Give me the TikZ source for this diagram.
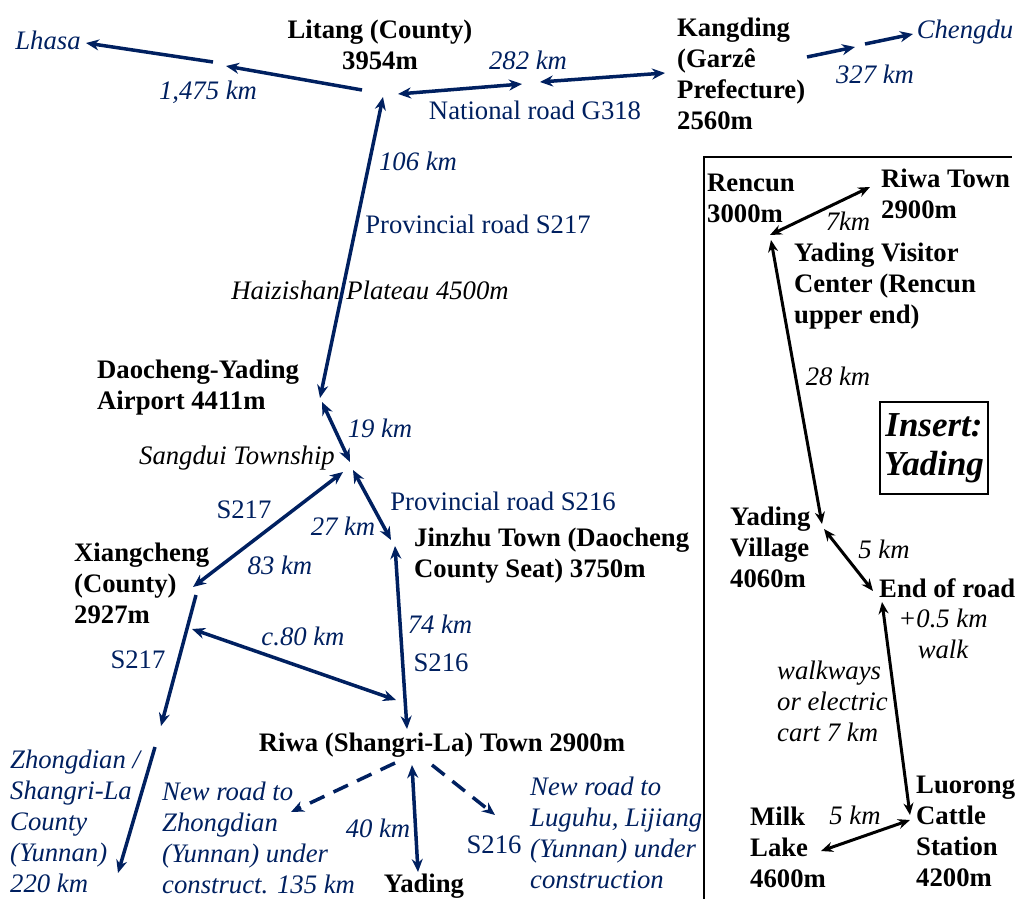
\documentclass[tikz,border=0pt]{standalone}
\usepackage{fontspec}
\setmainfont{Liberation Serif}
\usepackage{tikz}
\usetikzlibrary{arrows.meta}
\usetikzlibrary{positioning}
\definecolor{navy}{RGB}{0,32,96}

\begin{document}
\begin{tikzpicture}[x=1pt,y=-1pt,
  place/.style={font=\fontsize{26.7}{31}\selectfont\bfseries,align=left,inner sep=0pt},
  dist/.style={font=\fontsize{26.7}{31}\selectfont\itshape,text=navy,align=left,inner sep=0pt},
  road/.style={font=\fontsize{26.7}{31}\selectfont,text=navy,inner sep=0pt},
  remark/.style={font=\fontsize{26.7}{31}\selectfont\itshape,align=left,inner sep=0pt},
  route/.style={draw=navy,line width=3.5pt,{Stealth[length=13pt,width=11pt]}-{Stealth[length=13pt,width=11pt]}},
  oneway/.style={draw=navy,line width=3.5pt,-{Stealth[length=13pt,width=11pt]}},
  newroad/.style={oneway,dash pattern=on 16pt off 10pt},
  trail/.style={draw=black,line width=3pt,{Stealth[length=12pt,width=10pt]}-{Stealth[length=12pt,width=10pt]}}]
  \useasboundingbox (0,0) rectangle (1017,899);

  \node[place,align=center] (litang) at (380,45) {Litang (County)\\3954m};
  \node[place,anchor=west] (kangding) at (677,74) {Kangding\\(Garzê\\Prefecture)\\2560m};
  \node[dist] (lhasa) at (48,40) {Lhasa};
  \node[dist] (chengdu) at (965,32) {Chengdu};
  \node[dist] (d1475) at (208,92) {1,475 km};
  \node[dist] (d282) at (528,60) {282 km};
  \node[dist] (d327) at (875,74) {327 km};
  \node[road] (g318) at (535,110) {National road G318};
  \node[dist] (d106) at (418,161) {106 km};
  \node[road] (s217a) at (478,224) {Provincial road S217};
  \node[remark] (haizi) at (370,290) {Haizishan Plateau 4500m};
  \node[place,anchor=west] (airport) at (97,388) {Daocheng-Yading\\Airport 4411m};
  \node[dist] (d19) at (380,428) {19 km};
  \node[remark,anchor=east] (sangdui) at (335,458) {Sangdui Township};
  \node[road] (s216a) at (503,501) {Provincial road S216};
  \node[road] (s217b) at (244,510) {S217};
  \node[dist] (d27) at (343,526) {27 km};
  \node[place,anchor=west] (jinzhu) at (414,556) {Jinzhu Town (Daocheng\\County Seat) 3750m};
  \node[place,anchor=west] (xiang) at (74,583) {Xiangcheng\\(County)\\2927m};
  \node[dist] (d83) at (280,565) {83 km};
  \node[dist] (d80) at (303,636) {c.80 km};
  \node[dist] (d74) at (440,624) {74 km};
  \node[road] (s217c) at (138,660) {S217};
  \node[road] (s216b) at (441,663) {S216};
  \node[place] (riwa) at (442,745) {Riwa (Shangri-La) Town 2900m};
  \node[dist,anchor=west] (zhong) at (10,821) {Zhongdian /\\Shangri-La\\County\\(Yunnan)\\220 km};
  \node[dist,anchor=west] (newzhong) at (162,838) {New road to\\Zhongdian\\(Yunnan) under\\construct. 135 km};
  \node[dist] (d40) at (378,828) {40 km};
  \node[place] (yading) at (424,886) {Yading};
  \node[road] (s216c) at (494,845) {S216};
  \node[dist,anchor=west] (luguhu) at (530,833) {New road to\\Luguhu, Lijiang\\(Yunnan) under\\construction};

  \coordinate (litW) at (362,90);
  \coordinate (lhA) at (226,66);
  \coordinate (lhB) at (213,62);
  \coordinate (lhE) at (86,43);
  \coordinate (litE) at (398,94);
  \coordinate (gA) at (522,84);
  \coordinate (gB) at (540,82);
  \coordinate (kanW) at (665,73);
  \coordinate (kanE) at (807,57);
  \coordinate (cA) at (855,47);
  \coordinate (cB) at (865,44);
  \coordinate (chE) at (913,34);
  \coordinate (litS) at (383,97);
  \coordinate (airA) at (320,398);
  \coordinate (airB) at (322,402);
  \coordinate (sanN) at (350,462);
  \coordinate (sanW) at (343,472);
  \coordinate (sanE) at (353,470);
  \coordinate (xiaN) at (193,587);
  \coordinate (jinN) at (391,540);
  \coordinate (jinS) at (395,546);
  \coordinate (riwN) at (407,729);
  \coordinate (xiaE) at (192,629);
  \coordinate (riwW) at (396,700);
  \coordinate (xiaS) at (196,595);
  \coordinate (zhA) at (161,726);
  \coordinate (zhB) at (155,747);
  \coordinate (zhE) at (118,873);
  \coordinate (riwSW) at (395,763);
  \coordinate (nzE) at (291,812);
  \coordinate (riwS) at (412,765);
  \coordinate (yadN) at (418,872);
  \coordinate (riwSE) at (432,765);
  \coordinate (luE) at (495,815);

  \draw[oneway](litW)--(lhA);
  \draw[oneway](lhB)--(lhE);
  \draw[route](litE)--(gA);
  \draw[route](gB)--(kanW);
  \draw[oneway](kanE)--(cA);
  \draw[oneway](cB)--(chE);
  \draw[route](litS)--(airA);
  \draw[route](airB)--(sanN);
  \draw[route](sanW)--(xiaN);
  \draw[route](sanE)--(jinN);
  \draw[route](jinS)--(riwN);
  \draw[route](xiaE)--(riwW);
  \draw[oneway](xiaS)--(zhA);
  \draw[oneway](zhB)--(zhE);
  \draw[newroad](riwSW)--(nzE);
  \draw[route](riwS)--(yadN);
  \draw[newroad](riwSE)--(luE);

  % insert
  \draw[line width=1.5pt](704,899)--(704,157)--(1012,157);
  \node[place,anchor=west] (rencun) at (707,198) {Rencun\\3000m};
  \node[place,anchor=west] (riwatown) at (881,194) {Riwa Town\\2900m};
  \node[remark] (d7) at (848,221) {7km};
  \node[place,anchor=west] (visitor) at (794,286) {Yading Visitor\\Center (Rencun\\upper end)};
  \node[remark] (d28) at (838,376) {28 km};
  \node[draw,line width=1.8pt,minimum width=108pt,minimum height=92pt,inner sep=0pt,align=center,
        font=\fontsize{35}{39}\selectfont\bfseries\itshape] (insert) at (934,448) {Insert:\\Yading};
  \node[place,anchor=west] (village) at (730,547) {Yading\\Village\\4060m};
  \node[remark] (d5a) at (884,549) {5 km};
  \node[place,anchor=west] (endroad) at (879,588) {End of road};
  \node[remark,align=center] (walk) at (943,634) {+0.5 km\\walk};
  \node[remark,anchor=west] (cart) at (777,701) {walkways\\or electric\\cart 7 km};
  \node[place,anchor=west] (luorong) at (916,831) {Luorong\\Cattle\\Station\\4200m};
  \node[place,anchor=west] (milk) at (750,847) {Milk\\Lake\\4600m};
  \node[remark] (d5b) at (855,815) {5 km};

  \coordinate (renA) at (770,235);
  \coordinate (rtW) at (870,187);
  \coordinate (renS) at (771,240);
  \coordinate (vilA) at (822,524);
  \coordinate (vilB) at (824,529);
  \coordinate (endW) at (873,591);
  \coordinate (endS) at (882,602);
  \coordinate (luN) at (910,815);
  \coordinate (luW) at (910,820);
  \coordinate (milkE) at (821,851);

  \draw[trail](renA)--(rtW);
  \draw[trail](renS)--(vilA);
  \draw[trail](vilB)--(endW);
  \draw[trail](endS)--(luN);
  \draw[trail](milkE)--(luW);
\end{tikzpicture}
\end{document}
